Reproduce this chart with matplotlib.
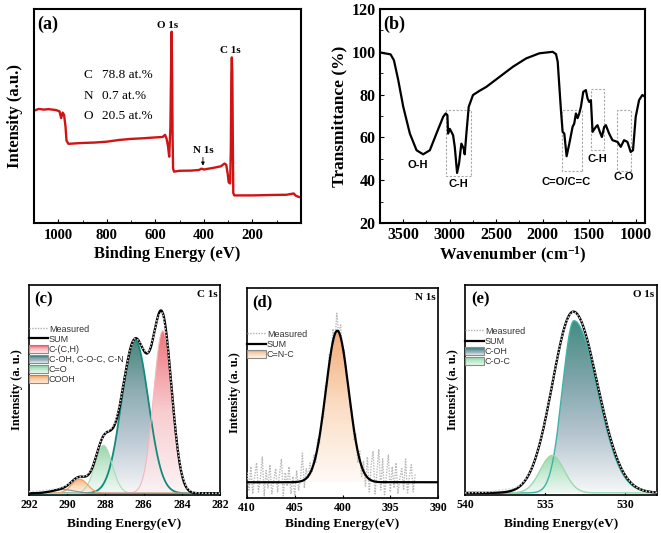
import numpy as np
import matplotlib

matplotlib.use("Agg")
import matplotlib.pyplot as plt
from matplotlib.colors import LinearSegmentedColormap
from matplotlib.patches import PathPatch, Rectangle, Patch
from matplotlib.lines import Line2D
from matplotlib.legend_handler import HandlerBase

# ---- (a) XPS survey (binding energy eV, intensity a.u.)
survey_e = [1100, 1080, 1060, 1040, 1010, 995, 988, 982, 976, 970, 966, 958, 930, 900,
            850, 800, 750, 700, 650, 600, 570, 560, 554, 548, 543, 538, 535, 533, 531,
            529, 527, 523, 500, 450, 420, 410, 400, 360, 330, 315, 308, 302, 298, 292,
            289, 287, 285, 283, 281, 279, 275, 200, 120, 60, 30, 22, 10, 0]
survey_i = [52.5, 53.3, 53.0, 53.2, 52.8, 52.2, 49.0, 51.6, 50.5, 45.0, 38.5, 37.0, 37.2, 37.4,
            37.6, 38.0, 38.8, 39.3, 39.6, 40.0, 40.2, 41.2, 39.5, 36.0, 31.0, 45.0, 75.0, 89.4, 70.0,
            40.0, 25.5, 24.0, 24.4, 24.5, 24.8, 25.4, 25.0, 25.8, 26.5, 27.8, 27.2, 23.0, 19.0, 18.5,
            35.0, 70.0, 77.4, 70.0, 40.0, 14.0, 12.9, 12.9, 13.1, 13.2, 13.8, 12.8, 12.2, 12.0]
at_elements = ["C", "N", "O"]
at_values = ["78.8 at.%", "0.7 at.%", "20.5 at.%"]

# ---- (b) FTIR
ftir_wn = [3750, 3636, 3600, 3554, 3500, 3429, 3357, 3286, 3214, 3143, 3071, 3043, 3025, 3018,
           3000, 2982, 2964, 2946, 2921, 2900, 2875, 2850, 2839, 2821, 2796, 2750, 2679, 2607,
           2464, 2321, 2179, 2036, 1893, 1857, 1839, 1821, 1804, 1786, 1768, 1743, 1714, 1679,
           1661, 1643, 1625, 1607, 1589, 1564, 1536, 1518, 1500, 1482, 1464, 1429, 1411, 1386,
           1364, 1339, 1321, 1286, 1250, 1196, 1161, 1125, 1089, 1054, 1029, 1000, 964, 929, 900]
ftir_t = [99.7, 98.8, 96.0, 86.8, 74.3, 61.8, 54.0, 52.1, 54.0, 61.8, 69.6, 71.2, 70.4, 61.8,
          64.0, 62.6, 61.0, 55.6, 43.4, 47.8, 57.1, 54.8, 52.1, 61.8, 74.3, 79.8, 81.8, 83.6,
          88.3, 93.0, 96.9, 99.3, 100.0, 98.9, 95.4, 83.7, 72.7, 62.6, 61.8, 51.2, 57.1, 64.9,
          66.5, 71.2, 69.0, 71.2, 74.3, 81.3, 82.1, 78.2, 76.6, 77.4, 62.6, 64.9, 65.7, 62.6,
          60.2, 64.9, 65.7, 61.8, 58.7, 57.9, 55.6, 58.7, 57.9, 53.2, 54.0, 69.6, 77.4, 79.8, 79.0]
band_labels = ["O-H", "C-H", "C=O/C=C", "C-H", "C-O"]
band_label_wn = [3339, 2911, 1750, 1411, 1125]
band_label_t = [47.0, 38.4, 39.2, 50.1, 41.5]
band_box_wn = [(3043, 2775), (1796, 1582), (1482, 1339), (1204, 1046)]
band_box_t = [(42.0, 72.7), (44.3, 72.7), (54.0, 82.4), (44.3, 72.7)]

# ---- (c) C 1s : fitted components (center eV, height, sigma)
c_names = ["C-(C,H)", "C-OH, C-O-C, C-N", "C=O", "COOH"]
c_center = [285.0, 286.45, 288.1, 289.35]
c_height = [0.78, 0.735, 0.23, 0.068]
c_sigma = [0.48, 0.70, 0.45, 0.42]
c_sat = (290.2, 0.018, 0.6)
c_meas = [0.008, 0.010, 0.012, 0.014, 0.017, 0.020, 0.024, 0.030, 0.040, 0.056,
          0.074, 0.081, 0.085, 0.112, 0.176, 0.250, 0.290, 0.305, 0.338, 0.424,
          0.553, 0.678, 0.742, 0.735, 0.688, 0.675, 0.748, 0.852, 0.866, 0.722,
          0.466, 0.233, 0.090, 0.028, 0.008, 0.003, 0.001, 0.000, 0.000, 0.000, 0.000]

# ---- (d) N 1s
n_names = ["C=N-C"]
n_center, n_height, n_sigma = 400.55, 0.78, 1.2
n_meas = [0.05, -0.04, 0.08, -0.06, 0.03, 0.10, -0.05, 0.02, 0.13, -0.07,
          0.06, -0.03, 0.09, -0.06, 0.01, 0.07, -0.05, 0.04, 0.12, -0.07,
          0.05, -0.02, 0.08, -0.06, 0.03, -0.07, 0.06, -0.04, 0.02, 0.15,
          -0.03, 0.07, 0.02, 0.10, 0.05, 0.14, 0.10, 0.22, 0.20, 0.34,
          0.33, 0.50, 0.49, 0.66, 0.64, 0.79, 0.72, 0.87, 0.76, 0.81,
          0.66, 0.68, 0.53, 0.52, 0.38, 0.37, 0.22, 0.25, 0.10, 0.16,
          0.03, 0.11, -0.02, 0.13, -0.05, 0.09, 0.16, -0.06, 0.05, 0.17,
          -0.04, 0.12, -0.07, 0.04, 0.14, -0.05, 0.08, -0.03, 0.10, -0.06,
          0.02, 0.07, -0.04, 0.12, -0.06, 0.03, 0.09, -0.05, 0.04]

# ---- (e) O 1s : (center, height, sigma high-BE side, sigma low-BE side)
o_names = ["C-OH", "C-O-C"]
o_center = [533.19, 534.55]
o_height = [0.828, 0.18]
o_sig_hi = [0.72, 0.75]
o_sig_lo = [1.45, 0.75]
o_sum = (533.23, 0.872, 1.30, 1.50)
o_meas = [0.000, 0.001, 0.002, 0.002, 0.003, 0.004, 0.006, 0.008, 0.011, 0.014,
          0.017, 0.019, 0.022, 0.028, 0.040, 0.060, 0.091, 0.134, 0.190, 0.262,
          0.346, 0.441, 0.542, 0.642, 0.733, 0.806, 0.854, 0.872, 0.862, 0.830,
          0.776, 0.705, 0.624, 0.537, 0.449, 0.366, 0.289, 0.222, 0.167, 0.121,
          0.086, 0.059, 0.040, 0.026, 0.016, 0.010, 0.006, 0.004, 0.002]

SERIF = "Liberation Serif"
SANS = "Liberation Sans"
plt.rcParams["font.family"] = SERIF
plt.rcParams["font.weight"] = "bold"
plt.rcParams["axes.labelweight"] = "bold"
plt.rcParams["mathtext.fontset"] = "custom"
plt.rcParams["mathtext.rm"] = "Liberation Serif:bold"
plt.rcParams["mathtext.bf"] = "Liberation Serif:bold"
plt.rcParams["mathtext.it"] = "Liberation Serif:bold"


def peak(x, c, h, s_hi, s_lo=None):
    s_lo = s_hi if s_lo is None else s_lo
    s = np.where(x > c, s_hi, s_lo)
    return h * np.exp(-(x - c) ** 2 / (2 * s ** 2))


def cmap_of(colors):
    return LinearSegmentedColormap.from_list("g", colors)


def bold_ticks(ax):
    for t in ax.get_xticklabels() + ax.get_yticklabels():
        t.set_fontweight("bold")


def grad_fill(ax, x, y, cmap, z, alpha=0.9):
    poly = ax.fill_between(x, 0, y, facecolor="none", edgecolor="none")
    patch = PathPatch(poly.get_paths()[0], facecolor="none", edgecolor="none",
                      transform=ax.transData)
    ax.add_patch(patch)
    grad = np.linspace(0, 1, 256).reshape(-1, 1)
    im = ax.imshow(grad, extent=(x.min(), x.max(), 0, y.max()), origin="lower",
                   aspect="auto", cmap=cmap, alpha=alpha, zorder=z)
    im.set_clip_path(patch)


class GradHandler(HandlerBase):
    def __init__(self, cmap):
        super().__init__()
        self.cmap = cmap

    def create_artists(self, legend, orig_handle, xdescent, ydescent, width, height,
                       fontsize, trans):
        arts = []
        n = 10
        for i in range(n):
            arts.append(Rectangle((-xdescent, -ydescent + height * i / n), width, height / n,
                                  facecolor=self.cmap(0.1 + 0.9 * (i + 0.5) / n),
                                  edgecolor="none", transform=trans))
        arts.append(Rectangle((-xdescent, -ydescent), width, height, facecolor="none",
                              edgecolor="#8c8c8c", lw=0.8, transform=trans))
        return arts


def xps_legend(ax, names, cmaps, y_top):
    handles = [Line2D([], [], color="#b0b0b0", ls=(0, (1, 1)), lw=1.0),
               Line2D([], [], color="black", lw=1.6)]
    labels = ["Measured", "SUM"]
    hmap = {}
    for name, cm in zip(names, cmaps):
        p = Patch()
        handles.append(p)
        labels.append(name)
        hmap[p] = GradHandler(cm)
    ax.legend(handles, labels, handler_map=hmap, loc="upper left",
              bbox_to_anchor=(0.0, y_top), frameon=False, borderpad=0, borderaxespad=0,
              handlelength=2.1, handleheight=0.95, handletextpad=0.1, labelspacing=0.12,
              prop={"family": SANS, "size": 6.5, "weight": "normal"}, labelcolor="#333333")


def bottom_style(ax, xlim, ylim, ticks, tag, core, xpad=5):
    ax.set_xlim(*xlim)
    ax.set_ylim(*ylim)
    ax.set_xticks(ticks)
    ax.set_yticks([])
    ax.tick_params(axis="x", direction="in", length=2, labelsize=8.5, pad=3)
    bold_ticks(ax)
    for s in ax.spines.values():
        s.set_linewidth(1.2)
    ax.set_xlabel("Binding Energy(eV)", fontsize=9.5, labelpad=xpad)
    ax.set_ylabel("Intensity (a. u.)", fontsize=9, labelpad=4)
    ax.text(0.03, 0.93, tag, transform=ax.transAxes, fontsize=12, va="center", ha="left")
    ax.text(0.985, 0.955, core, transform=ax.transAxes, fontsize=8, va="center", ha="right")


fig = plt.figure(figsize=(6.61, 5.33), dpi=100)

# ---------------- (a)
ax = fig.add_axes([0.0514, 0.5816, 0.404, 0.4015])
ax.plot(survey_e, survey_i, color="#d01414", lw=1.7)
ax.set_xlim(1100, 0)
ax.set_ylim(0, 100)
ax.set_xticks([1000, 800, 600, 400, 200])
ax.set_xticks([900, 700, 500, 300, 100], minor=True)
ax.set_yticks([])
ax.tick_params(axis="x", which="both", direction="in", labelsize=10.5, pad=4)
ax.tick_params(axis="x", which="major", length=3)
ax.tick_params(axis="x", which="minor", length=2)
bold_ticks(ax)
for s in ax.spines.values():
    s.set_linewidth(1.5)
ax.set_xlabel("Binding Energy (eV)", fontsize=12, labelpad=3)
ax.set_ylabel("Intensity (a.u.)", fontsize=12, labelpad=8)
ax.text(0.012, 0.93, "(a)", transform=ax.transAxes, fontsize=13, va="center")
for k, (el, val) in enumerate(zip(at_elements, at_values)):
    yy = 0.69 - k * 0.095
    ax.text(0.185, yy, el, transform=ax.transAxes, fontsize=9.5, weight="normal", va="center")
    ax.text(0.255, yy, val, transform=ax.transAxes, fontsize=9.5, weight="normal", va="center")
ax.text(549, 92.5, "O 1s", fontsize=8, ha="center", va="center")
ax.text(292, 80.5, "C 1s", fontsize=8, ha="center", va="center")
ax.annotate("N 1s", xy=(404, 26.8), xytext=(404, 32.0), fontsize=8, ha="center", va="bottom",
            arrowprops=dict(arrowstyle="-|>", lw=0.6, color="black", mutation_scale=5,
                            shrinkA=0, shrinkB=0))

# ---------------- (b)
ax = fig.add_axes([0.5749, 0.5816, 0.4009, 0.4015])
ax.plot(ftir_wn, ftir_t, color="black", lw=1.6)
for (w0, w1), (t0, t1) in zip(band_box_wn, band_box_t):
    ax.add_patch(Rectangle((w1, t0), w0 - w1, t1 - t0, facecolor="none", edgecolor="#a8a8a8",
                           lw=0.8, ls=(0, (2, 1.5))))
for lab, w, t in zip(band_labels, band_label_wn, band_label_t):
    ax.text(w, t, lab, fontsize=8, family=SANS, weight="bold", ha="center", va="center")
ax.set_xlim(3750, 900)
ax.set_ylim(20, 120)
ax.set_xticks([3500, 3000, 2500, 2000, 1500, 1000])
ax.set_xticks([3250, 2750, 2250, 1750, 1250], minor=True)
ax.set_yticks([20, 40, 60, 80, 100, 120])
ax.set_yticks([30, 50, 70, 90, 110], minor=True)
ax.tick_params(which="both", direction="in", labelsize=11.5, pad=3)
ax.tick_params(which="major", length=3)
ax.tick_params(which="minor", length=2)
bold_ticks(ax)
for s in ax.spines.values():
    s.set_linewidth(1.5)
ax.set_xlabel("Wavenumber (cm$^{-1}$)", fontsize=12, labelpad=1)
ax.set_ylabel("Transmittance (%)", fontsize=12.5, labelpad=3)
ax.text(0.012, 0.93, "(b)", transform=ax.transAxes, fontsize=13, va="center")

# ---------------- (c)
ax = fig.add_axes([0.0439, 0.0713, 0.289, 0.394])
xg = np.linspace(282, 292, 801)
c_cmaps = [cmap_of(["#fdf2f4", "#f7c4c8", "#ea5a60"]),
           cmap_of(["#f5f6f8", "#b4c3cf", "#7a9ea6", "#236f63"]),
           cmap_of(["#f2faf4", "#c3e8cf", "#86cf9d"]),
           cmap_of(["#fff5ec", "#fbd0a8", "#f7a25e"])]
c_lines = ["#f2b8bb", "#138a7c", "#a8dcb8", "#f5a35c"]
c_lw = [0.8, 1.3, 0.8, 0.9]
c_order = [1, 2, 3, 0]
total = peak(xg, *c_sat)
for i in range(len(c_names)):
    total = total + peak(xg, c_center[i], c_height[i], c_sigma[i])
for z, i in enumerate(c_order):
    y = peak(xg, c_center[i], c_height[i], c_sigma[i])
    grad_fill(ax, xg, y, c_cmaps[i], 2 + z * 0.1, alpha=0.85)
    ax.plot(xg, y, color=c_lines[i], lw=c_lw[i], zorder=3)
ax.plot(xg, peak(xg, *c_sat), color="#8a8a8a", lw=0.8, zorder=3)
ax.plot(xg, total, color="black", lw=1.7, zorder=5)
ax.plot(np.linspace(292, 282, len(c_meas)), c_meas, color="#d4d4d4", lw=1.1,
        ls=(0, (1, 1.2)), zorder=6)
bottom_style(ax, (292, 282), (-0.008, 1.0), [292, 290, 288, 286, 284, 282], "(c)", "C 1s")
xps_legend(ax, c_names, c_cmaps, 0.81)

# ---------------- (d)
ax = fig.add_axes([0.3737, 0.0657, 0.289, 0.394])
xg = np.linspace(390, 410, 801)
n_cmap = cmap_of(["#fffaf6", "#fbdcc2", "#f3a66e"])
y = peak(xg, n_center, n_height, n_sigma)
grad_fill(ax, xg, y, n_cmap, 2, alpha=0.95)
ax.plot(np.linspace(410, 392.4, len(n_meas)), n_meas, color="#b8b8b8", lw=1.0,
        ls=(0, (1, 1)), zorder=4)
ax.plot(xg, y, color="black", lw=1.6, zorder=5)
bottom_style(ax, (410, 390), (-0.081, 1.0), [410, 405, 400, 395, 390], "(d)", "N 1s", xpad=3)
xps_legend(ax, n_names, [n_cmap], 0.80)

# ---------------- (e)
ax = fig.add_axes([0.7035, 0.0713, 0.2904, 0.394])
xg = np.linspace(528, 540, 801)
o_cmaps = [cmap_of(["#f6f8f9", "#aebfcb", "#6e9aa0", "#2f7f74"]),
           cmap_of(["#eef9f1", "#c2ead0", "#8fd5a6"])]
o_lines = ["#3fb3a6", "#9bd9ae"]
for i in range(len(o_names)):
    y = peak(xg, o_center[i], o_height[i], o_sig_hi[i], o_sig_lo[i])
    grad_fill(ax, xg, y, o_cmaps[i], 2 + i * 0.1, alpha=0.9)
    ax.plot(xg, y, color=o_lines[i], lw=1.0, zorder=3)
ax.plot(xg, peak(xg, *o_sum), color="black", lw=1.7, zorder=5)
ax.plot(np.linspace(540, 528, len(o_meas)), o_meas, color="#d4d4d4", lw=1.1,
        ls=(0, (1, 1.2)), zorder=6)
bottom_style(ax, (540, 528), (-0.01, 1.0), [540, 535, 530], "(e)", "O 1s")
xps_legend(ax, o_names, o_cmaps, 0.80)

fig.savefig("out.png", dpi=100)
